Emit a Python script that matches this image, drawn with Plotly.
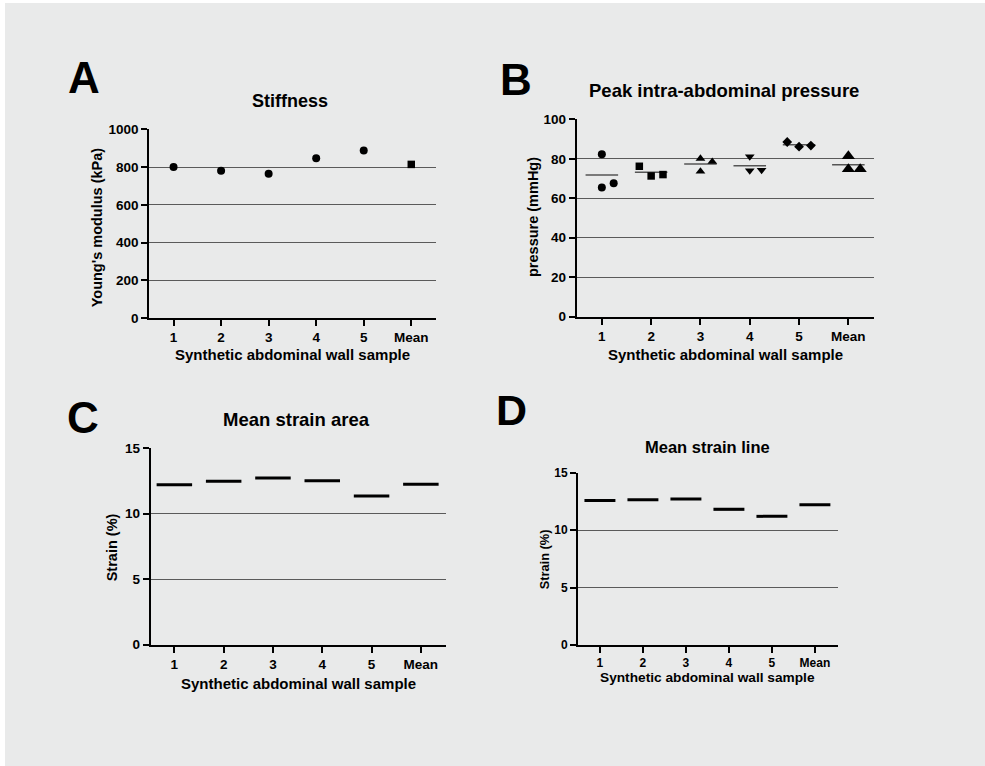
import plotly.graph_objects as go

# ---------------- data ----------------
categories = ["1", "2", "3", "4", "5", "Mean"]
stiffness_kpa = [800, 781, 765, 846, 887, 814]
pressure_mmhg = [
    [82.3, 65.5, 67.6],
    [76.2, 71.3, 72.0],
    [80.1, 73.6, 78.5],
    [81.1, 74.0, 74.3],
    [88.5, 86.1, 86.7],
    [81.4, 74.8, 74.8],
]
strain_area = [12.20, 12.46, 12.71, 12.51, 11.34, 12.23]
strain_line = [12.59, 12.65, 12.71, 11.81, 11.20, 12.21]

# ---------------- styles ----------------
W, H = 985, 766
BG = "#e9eaea"
FONT = "Liberation Sans, Arial, Helvetica, sans-serif"
GRID = "#5a5a5a"
# horizontal arrangement of replicate dots (Prism style scatter), category units
DOT_OFFSETS = [
    [0, 0, 0.24],
    [-0.24, 0, 0.24],
    [0, 0, 0.24],
    [0, 0, 0.24],
    [-0.24, 0, 0.24],
    [0, 0, 0.24],
]
B_SYMBOLS = ["circle", "square", "triangle-up", "triangle-down", "diamond", "triangle-up"]
B_SIZES = [8, 7.5, 8.5, 8.5, 7.5, 11.5]


def fx(x):
    return x / W


def fy(y):
    return 1 - y / H


fig = go.Figure()

# panel geometry in pixels: (x0, x1, ytop, ybottom)
panels = {
    "A": dict(ax="", box=(149.3, 436, 129.3, 318), xr=[-0.51, 5.52], yr=[0, 1000], dtick=200, tf=13.5),
    "B": dict(ax="2", box=(576.7, 874, 119.3, 316.7), xr=[-0.51, 5.52], yr=[0, 100], dtick=20, tf=13.5),
    "C": dict(ax="3", box=(150.7, 446, 448, 644.7), xr=[-0.48, 5.51], yr=[0, 15], dtick=5, tf=13.5),
    "D": dict(ax="4", box=(578, 837.7, 472.7, 645), xr=[-0.51, 5.53], yr=[0, 15], dtick=5, tf=12),
}

xs = list(range(len(categories)))

# A: stiffness
fig.add_trace(go.Scatter(
    x=xs[:5], y=stiffness_kpa[:5], mode="markers", xaxis="x", yaxis="y",
    marker=dict(symbol="circle", size=8, color="black"), showlegend=False,
    cliponaxis=False))
fig.add_trace(go.Scatter(
    x=xs[5:], y=stiffness_kpa[5:], mode="markers", xaxis="x", yaxis="y",
    marker=dict(symbol="square", size=7.5, color="black"), showlegend=False,
    cliponaxis=False))

# B: peak pressure, dots + mean lines
for i, vals in enumerate(pressure_mmhg):
    m = sum(vals) / len(vals)
    fig.add_trace(go.Scatter(
        x=[i - 0.33, i + 0.33], y=[m, m], mode="lines", xaxis="x2", yaxis="y2",
        line=dict(color="#555555", width=1.5), showlegend=False))
    fig.add_trace(go.Scatter(
        x=[i + o for o in DOT_OFFSETS[i]], y=vals, mode="markers",
        xaxis="x2", yaxis="y2",
        marker=dict(symbol=B_SYMBOLS[i], size=B_SIZES[i], color="black"),
        showlegend=False, cliponaxis=False))


def bars(values, ax, half=0.36):
    bx, by = [], []
    for i, v in enumerate(values):
        bx += [i - half, i + half, None]
        by += [v, v, None]
    fig.add_trace(go.Scatter(
        x=bx, y=by, mode="lines", xaxis="x" + ax, yaxis="y" + ax,
        line=dict(color="black", width=3), showlegend=False))


bars(strain_area, "3")
bars(strain_line, "4")

layout = dict(
    width=W, height=H, autosize=False,
    margin=dict(l=0, r=0, t=0, b=0, pad=0, autoexpand=False),
    paper_bgcolor="white", plot_bgcolor="rgba(0,0,0,0)",
    font=dict(family=FONT, color="black"),
    showlegend=False,
)

for key, p in panels.items():
    x0, x1, yt, yb = p["box"]
    ax = p["ax"]
    layout["xaxis" + ax] = dict(
        domain=[fx(x0), fx(x1)], range=p["xr"], anchor="y" + ax,
        tickmode="array", tickvals=xs, ticktext=categories,
        showline=True, linecolor="black", linewidth=2,
        ticks="outside", ticklen=6, tickwidth=2, tickcolor="black",
        showgrid=False, zeroline=False, automargin=False,
        tickfont=dict(family=FONT, size=p["tf"], color="black", weight="bold"),
    )
    layout["yaxis" + ax] = dict(
        domain=[fy(yb), fy(yt)], range=p["yr"], anchor="x" + ax,
        tickmode="linear", tick0=0, dtick=p["dtick"],
        showline=True, linecolor="black", linewidth=2,
        ticks="outside", ticklen=6, tickwidth=2, tickcolor="black",
        showgrid=True, gridcolor=GRID, gridwidth=1, zeroline=False, automargin=False,
        tickfont=dict(family=FONT, size=p["tf"], color="black", weight="bold"),
    )

fig.update_layout(**layout)

# background panel with thin white border at left/top
fig.add_shape(type="rect", xref="paper", yref="paper",
              x0=fx(5), x1=1, y0=0, y1=fy(3),
              fillcolor=BG, line=dict(width=0), layer="below")


def text(x, y, s, size, angle=0):
    fig.add_annotation(x=fx(x), y=fy(y), xref="paper", yref="paper",
                       text=s, showarrow=False, textangle=angle,
                       xanchor="center", yanchor="middle",
                       font=dict(family=FONT, size=size, color="black", weight="bold"))


# panel letters
text(83.5, 78, "A", 44)
text(515.5, 79, "B", 44)
text(82.5, 417, "C", 44)
text(511.5, 410, "D", 43)

# titles
text(290, 101, "Stiffness", 18)
text(723.7, 90, "Peak intra-abdominal pressure", 18.5)
text(296.7, 419, "Mean strain area", 18.5)
text(707, 447, "Mean strain line", 16.5)

# x axis titles
text(292.5, 354, "Synthetic abdominal wall sample", 15)
text(725, 354, "Synthetic abdominal wall sample", 15)
text(298, 683, "Synthetic abdominal wall sample", 15)
text(707.5, 677.5, "Synthetic abdominal wall sample", 13.7)

# y axis titles
text(97.3, 227, "Young's modulus (kPa)", 14.5, -90)
text(533, 217, "pressure (mmHg)", 14.5, -90)
text(112.3, 547, "Strain (%)", 14.5, -90)
text(544.3, 559, "Strain (%)", 12.8, -90)

fig.write_html(
    "out.html",
    config={"displayModeBar": False},
    post_script=(
        "document.documentElement.style.margin='0';"
        "document.body.style.margin='0';"
        "document.documentElement.style.overflow='hidden';"
        "document.body.style.overflow='hidden';"
        "var gd=document.getElementById('{plot_id}');"
        "gd.style.position='fixed';gd.style.top='0px';gd.style.left='0px';"
    ),
)
